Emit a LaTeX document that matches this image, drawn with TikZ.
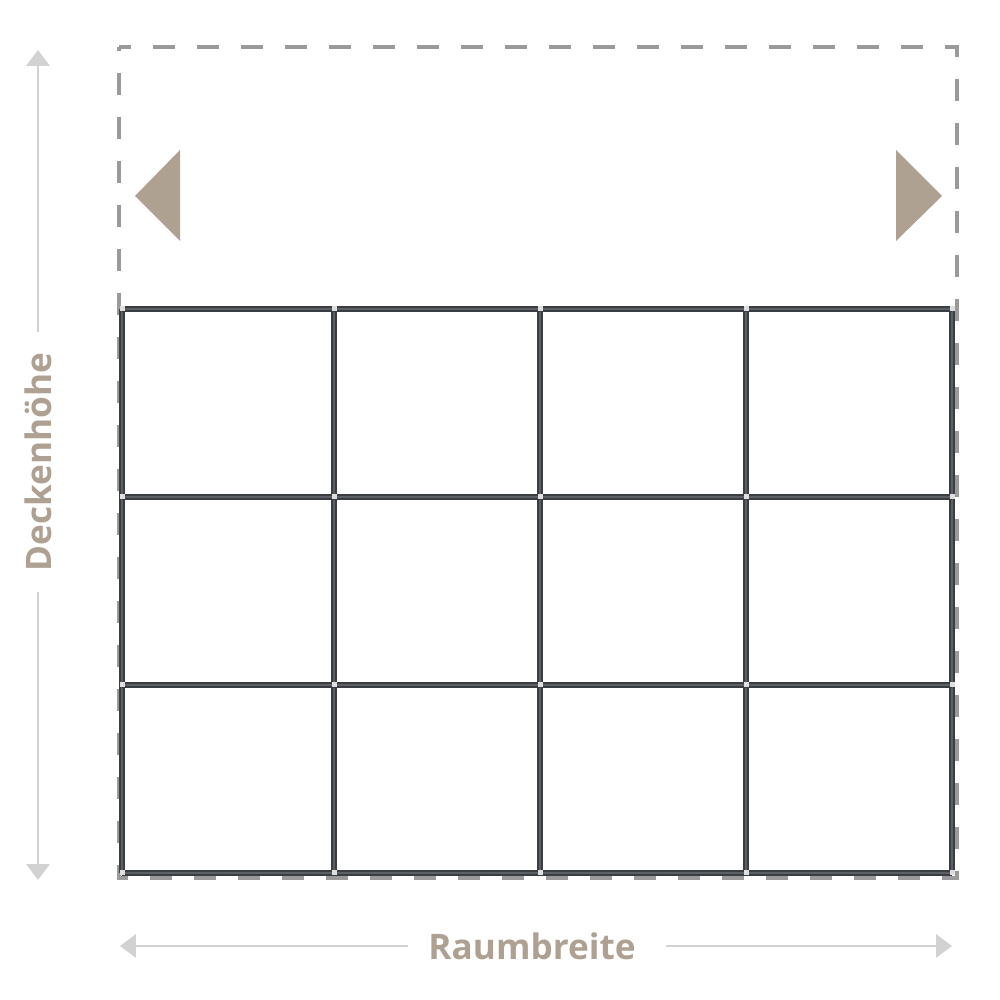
\documentclass[tikz,border=0pt]{standalone}
\usepackage{fontspec}
\setsansfont{Open Sans}
\usepackage{tikz}
\usetikzlibrary{arrows.meta, positioning}
\definecolor{sand}{HTML}{AEA192}
\definecolor{frame}{HTML}{3A3D42}
\definecolor{framelight}{HTML}{5C5F64}
\definecolor{dimgray}{HTML}{D2D2D2}
\definecolor{outline}{HTML}{9A9A9A}

\tikzset{
	dimline/.style={line width=0.85pt, dimgray},
	dimtip/.style={-{Triangle[width=6.5pt,length=4.5pt]}},
	dimlabel/.style={font=\fontsize{10}{11}\sffamily\bfseries, text=sand, inner sep=0pt},
	roomline/.style={line width=1.1pt, outline, dash pattern=on 0.22cm off 0.22cm, dash phase=0.1cm},
	profile/.style={line width=1.5pt, frame},
	profilecore/.style={line width=0.5pt, framelight},
	joint/.style={fill=gray!25, draw=none},
	marker/.style={fill=sand, draw=none}
}

\begin{document}
\begin{tikzpicture}[line join=miter]
	\useasboundingbox (0,0) rectangle (10,10);
	% room outline
	\draw[roomline] (1.19,9.53) -- (9.57,9.53) -- (9.57,1.22) -- (1.19,1.22) -- cycle;
	% side markers
	\fill[marker] (1.35,8.04) -- (1.80,8.50) -- (1.80,7.59) -- cycle;
	\fill[marker] (9.42,8.04) -- (8.96,8.50) -- (8.96,7.59) -- cycle;
	% grid of panels
	\foreach \x in {1.22,3.34,5.40,7.46,9.52} {
		\draw[profile] (\x,6.91) -- (\x,1.27);
		\draw[profilecore] (\x,6.91) -- (\x,1.27);
	}
	\foreach \y in {6.91,5.03,3.15,1.27} {
		\draw[profile] (1.22,\y) -- (9.52,\y);
		\draw[profilecore] (1.22,\y) -- (9.52,\y);
	}
	\foreach \x in {1.22,3.34,5.40,7.46,9.52}
		\foreach \y in {6.91,5.03,3.15,1.27}
			\fill[joint] (\x-0.025,\y-0.025) rectangle (\x+0.025,\y+0.025);
	% dimensions
	\node[dimlabel, rotate=90] (height) at (0.38,5.38) {Deckenhöhe};
	\coordinate (htop) at (0.38,9.50);
	\coordinate (hbottom) at (0.38,1.20);
	\draw[dimline, dimtip] (height.east) ++(0,0.2) -- (htop);
	\draw[dimline, dimtip] (height.west) ++(0,-0.2) -- (hbottom);
	\node[dimlabel] (width) at (5.32,0.54) {Raumbreite};
	\coordinate (wleft) at (1.20,0.54);
	\coordinate (wright) at (9.52,0.54);
	\draw[dimline, dimtip] (width.west) ++(-0.2,0) -- (wleft);
	\draw[dimline, dimtip] (width.east) ++(0.3,0) -- (wright);
\end{tikzpicture}
\end{document}
